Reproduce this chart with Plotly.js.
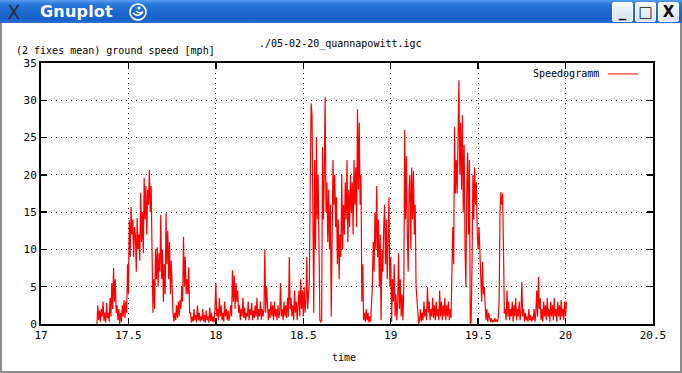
<!DOCTYPE html>
<html><head><meta charset="utf-8">
<script src="https://cdn.plot.ly/plotly-3.0.1.min.js"></script>
<style>
html,body{margin:0;padding:0;background:#fff;}
#wrap{position:relative;width:682px;height:373px;overflow:hidden;background:#fff;}
#chart{position:absolute;left:0;top:0;width:682px;height:373px;}
#titlebar{position:absolute;left:0;top:0;width:682px;height:23px;z-index:5;
 background:linear-gradient(#5b9df0 0%,#2a78dc 18%,#1b66cf 55%,#1a62c8 85%,#2c6fce 100%);}
#xicon{position:absolute;left:7px;top:0px;font:20px "DejaVu Sans";color:#2a2a2a;transform:scaleX(0.9);}
#tname{position:absolute;left:40px;top:2px;font:bold 16px "DejaVu Sans";color:#fff;letter-spacing:0.2px;}
#swirl{position:absolute;left:127px;top:2px;}
.btn{position:absolute;top:2px;width:19px;height:18px;background:linear-gradient(#f4f8fd,#d6e4f5);border:1px solid #fff;border-radius:2px;font:bold 15px "DejaVu Sans";color:#111;text-align:center;line-height:18px;}
#bl{position:absolute;left:0;top:23px;width:2px;height:350px;background:#8a8a8a;z-index:5;}
#br{position:absolute;right:0;top:23px;width:2px;height:350px;background:#8a8a8a;z-index:5;}
#bb{position:absolute;left:0;bottom:0;width:682px;height:2px;background:#8a8a8a;z-index:5;}
</style>
</head><body>
<div id="wrap">
<div id="chart"></div>
<div id="titlebar">
 <span id="xicon">X</span>
 <span id="tname">Gnuplot</span>
 <svg id="swirl" width="22" height="20" viewBox="0 0 22 20"><circle cx="11" cy="10" r="8" fill="none" stroke="#fff" stroke-width="1.6"/><path d="M6 11 Q11 16 16 10 Q12 12 9 9" fill="none" stroke="#fff" stroke-width="1.6"/><circle cx="12" cy="6" r="1.6" fill="#fff"/></svg>
 <div class="btn" style="left:612px;">_</div>
 <div class="btn" style="left:635px;">&#9633;</div>
 <div class="btn" style="left:658px;">X</div>
</div>
<div id="bl"></div><div id="br"></div><div id="bb"></div>
</div>
<script>
// time of day [h]
const times = [
17.32,17.325,17.33,17.335,17.34,17.345,17.35,17.355,17.36,17.365,17.37,17.375,17.38,17.385,17.39,17.395,17.4,17.405,17.41,17.415,
17.42,17.425,17.43,17.435,17.44,17.445,17.45,17.455,17.46,17.465,17.47,17.475,17.48,17.485,17.49,17.495,17.5,17.505,17.51,17.515,
17.52,17.525,17.53,17.535,17.54,17.545,17.55,17.555,17.56,17.565,17.57,17.575,17.58,17.585,17.59,17.595,17.6,17.605,17.61,17.615,
17.62,17.625,17.63,17.635,17.64,17.645,17.65,17.655,17.66,17.665,17.67,17.675,17.68,17.685,17.69,17.695,17.7,17.705,17.71,17.715,
17.72,17.725,17.73,17.735,17.74,17.745,17.75,17.755,17.76,17.765,17.77,17.775,17.78,17.785,17.79,17.795,17.8,17.805,17.81,17.815,
17.82,17.825,17.83,17.835,17.84,17.845,17.85,17.855,17.86,17.865,17.87,17.875,17.88,17.885,17.89,17.895,17.9,17.905,17.91,17.915,
17.92,17.925,17.93,17.935,17.94,17.945,17.95,17.955,17.96,17.965,17.97,17.975,17.98,17.985,17.99,17.995,18,18.005,18.01,18.015,
18.02,18.025,18.03,18.035,18.04,18.045,18.05,18.055,18.06,18.065,18.07,18.075,18.08,18.085,18.09,18.095,18.1,18.105,18.11,18.115,
18.12,18.125,18.13,18.135,18.14,18.145,18.15,18.155,18.16,18.165,18.17,18.175,18.18,18.185,18.19,18.195,18.2,18.205,18.21,18.215,
18.22,18.225,18.23,18.235,18.24,18.245,18.25,18.255,18.26,18.265,18.27,18.275,18.28,18.285,18.29,18.295,18.3,18.305,18.31,18.315,
18.32,18.325,18.33,18.335,18.34,18.345,18.35,18.355,18.36,18.365,18.37,18.375,18.38,18.385,18.39,18.395,18.4,18.405,18.41,18.415,
18.42,18.425,18.43,18.435,18.44,18.445,18.45,18.455,18.46,18.465,18.47,18.475,18.48,18.485,18.49,18.495,18.5,18.505,18.51,18.515,
18.52,18.525,18.53,18.535,18.54,18.545,18.55,18.555,18.56,18.565,18.57,18.575,18.58,18.585,18.59,18.595,18.6,18.605,18.61,18.615,
18.62,18.625,18.63,18.635,18.64,18.645,18.65,18.655,18.66,18.665,18.67,18.675,18.68,18.685,18.69,18.695,18.7,18.705,18.71,18.715,
18.72,18.725,18.73,18.735,18.74,18.745,18.75,18.755,18.76,18.765,18.77,18.775,18.78,18.785,18.79,18.795,18.8,18.805,18.81,18.815,
18.82,18.825,18.83,18.835,18.84,18.845,18.85,18.855,18.86,18.865,18.87,18.875,18.88,18.885,18.89,18.895,18.9,18.905,18.91,18.915,
18.92,18.925,18.93,18.935,18.94,18.945,18.95,18.955,18.96,18.965,18.97,18.975,18.98,18.985,18.99,18.995,19,19.005,19.01,19.015,
19.02,19.025,19.03,19.035,19.04,19.045,19.05,19.055,19.06,19.065,19.07,19.075,19.08,19.085,19.09,19.095,19.1,19.105,19.11,19.115,
19.12,19.125,19.13,19.135,19.14,19.145,19.15,19.155,19.16,19.165,19.17,19.175,19.18,19.185,19.19,19.195,19.2,19.205,19.21,19.215,
19.22,19.225,19.23,19.235,19.24,19.245,19.25,19.255,19.26,19.265,19.27,19.275,19.28,19.285,19.29,19.295,19.3,19.305,19.31,19.315,
19.32,19.325,19.33,19.335,19.34,19.345,19.35,19.355,19.36,19.365,19.37,19.375,19.38,19.385,19.39,19.395,19.4,19.405,19.41,19.415,
19.42,19.425,19.43,19.435,19.44,19.445,19.45,19.455,19.46,19.465,19.47,19.475,19.48,19.485,19.49,19.495,19.5,19.505,19.51,19.515,
19.52,19.525,19.53,19.535,19.54,19.545,19.55,19.555,19.56,19.565,19.57,19.575,19.58,19.585,19.59,19.595,19.6,19.605,19.61,19.615,
19.62,19.625,19.63,19.635,19.64,19.645,19.65,19.655,19.66,19.665,19.67,19.675,19.68,19.685,19.69,19.695,19.7,19.705,19.71,19.715,
19.72,19.725,19.73,19.735,19.74,19.745,19.75,19.755,19.76,19.765,19.77,19.775,19.78,19.785,19.79,19.795,19.8,19.805,19.81,19.815,
19.82,19.825,19.83,19.835,19.84,19.845,19.85,19.855,19.86,19.865,19.87,19.875,19.88,19.885,19.89,19.895,19.9,19.905,19.91,19.915,
19.92,19.925,19.93,19.935,19.94,19.945,19.95,19.955,19.96,19.965,19.97,19.975,19.98,19.985,19.99,19.995,20,20.005
];
// (2 fixes mean) ground speed [mph]
const speeds = [
0,2.5,0.5,1.8,0.3,2,1,3,0.4,1.5,0.2,2.8,0.8,1.5,0.3,3.5,1,5.5,2,7.5,
3,6,1.5,2.5,0.5,2,0,1.5,0.3,2.5,1,3.2,0.8,3,1.5,8,4,13.9,9,15.7,
12,14,9,13,11.8,7,14.2,10,12,8.5,17.6,11,15,9.5,19.6,14,18.5,12,18,16,
20.7,15,18.5,9,1.5,6,2,10,6,10.3,5,9.5,7,14.6,6,10,3,8,4,14.9,
8,12.5,6,11,4,8.5,3,1.5,0.3,1.5,0.5,2.5,0.8,3,1,3.2,2,5,3,11.7,
5,9,4,6,4,7.6,1.5,1.5,0.2,1,0.3,2,0.5,1.2,0.2,2.5,0.5,1.5,0.3,1,
0.5,2,0.3,1.2,0.2,1.8,0.5,1,0.2,2.2,0.4,1.5,0.3,1,0.2,2,5.5,1,2,0.5,
3.5,1,2.5,0.5,1.5,0.3,3,1,2,0.5,1.8,0.4,1.2,2.5,1,7.2,3,6.5,2,5.5,
3,4.5,1.5,2.5,0.5,2,1,3.5,0.8,2.2,0.5,1.5,1,3,0.5,2,1.2,2.8,0.5,1.8,
0.8,2.5,1,3.5,0.5,2,1,3,0.6,2,1,2,10,1.5,5,2.5,0.5,2,0.8,3,
1,2.5,0.5,3,1,2,0.5,2.5,0.8,1.5,5.5,1,2,0.5,3,1,2.5,0.8,3.5,1,
9,2,3.5,1,2.5,0.5,4.5,1.5,3,0.5,2,4.5,1,6,2,4.5,1,5,1.5,3,
9,2,4,6,19.3,29.6,28,12,1.5,22,10,25,14,20,8,0.5,0.3,0.5,23.7,14,
20,30.4,15,19,11,18,10,16,1,12,22,16,20,13,17,8,14,6,12,9,
20,10,16,12,19,14,22,11,18,13,20,15,19,12,22,16,21,13,28.8,18,
27,16,20,3,8,0.5,1.5,0.3,2,0.5,1.5,0.2,1,0.3,2,5,11,7,15,10,
18.5,9,14,5,12,0.5,10,7,13,16,8,14,6,12,17,5,9,0.3,6,3,
8,1,4,0.5,3,9.5,2,6,1,4,0.5,5,26,14,22.5,12,7,18,20,10,
21,14,20.5,12,16,5,3.3,0.3,0,0.5,2,0.3,1.5,0.5,3,1,2,0.5,5,1.5,
3,0.5,2,1,3.5,0.8,2.5,0.5,3,1,2,0.5,4.5,1,3,0.5,2.5,1,3.5,0.5,
2.5,1,3,0.5,2,0.8,7.6,13,8,26.4,17.5,22,17.5,30,32.7,20,27,18,28,15,
24,10,5,18,23,12,22,0,0.3,8,20,14,21,16,19,12,10,13,8.6,5,
3,8.3,4,5,1.9,0.5,2,0.3,1.5,0.5,0.3,0.8,0.2,0.5,0.3,0.8,0.3,0.5,0.3,0.8,
3,15,17.7,16,17.5,10,1.4,2,0.5,4.5,1,3,0.5,2,1,3,0.3,2.5,1,3.5,
0.5,2,1,3,0.5,1.5,5.6,1,2,0.3,1.5,0.5,1,0.3,2,0.5,1.2,0.3,1,0.5,
2,0.3,1.5,4.5,1,6.3,2,3.5,0.5,2,0.3,3,1,2.5,0.5,3.5,1,2,0.3,3,
1,2.5,0.5,3.5,1,2,0.3,3,1,2.5,0.5,3.2,1,2,0.5,3,1,3
];
const seriesName = "Speedogramm";
const chartTitle = "./05-02-20_quannapowitt.igc";
const yLabel = "(2 fixes mean) ground speed [mph]";
const xLabel = "time";
const xRange = [17, 20.5];
const yRange = [0, 35];

const FONT = "DejaVu Sans Mono, monospace";
const axisCommon = {
  showline: true, linecolor: "#000", linewidth: 2, mirror: "ticks",
  ticks: "inside", ticklen: 6, tickwidth: 1.5, tickcolor: "#000",
  showgrid: true, gridcolor: "#000", gridwidth: 1, griddash: "1px,4px",
  zeroline: false, tickfont: {family: FONT, size: 11, color: "#000"}
};
const layout = {
  width: 682, height: 373,
  margin: {l: 41, r: 29, t: 63, b: 49, pad: 0},
  paper_bgcolor: "#fff", plot_bgcolor: "#fff",
  showlegend: false,
  xaxis: Object.assign({}, axisCommon, {range: xRange, tick0: 17, dtick: 0.5}),
  yaxis: Object.assign({}, axisCommon, {range: yRange, tick0: 0, dtick: 5}),
  annotations: [
    {text: chartTitle, xref: "paper", yref: "paper", x: 0.4886, y: 1.073, xanchor: "center", yanchor: "middle", showarrow: false, font: {family: FONT, size: 10, color: "#000"}},
    {text: yLabel, xref: "paper", yref: "paper", x: -0.0441, y: 1.0498, xanchor: "left", yanchor: "middle", showarrow: false, font: {family: FONT, size: 10, color: "#000"}},
    {text: xLabel, xref: "paper", yref: "paper", x: 0.495, y: -0.130, xanchor: "center", yanchor: "middle", showarrow: false, font: {family: FONT, size: 10, color: "#000"}},
    {text: seriesName, xref: "paper", yref: "paper", x: 0.915, y: 0.958, xanchor: "right", yanchor: "middle", showarrow: false, font: {family: FONT, size: 10, color: "#000"}}
  ],
  shapes: [
    {type: "line", xref: "paper", yref: "paper", x0: 0.9265, x1: 0.9755, y0: 0.958, y1: 0.958, line: {color: "#ff0000", width: 1}}
  ]
};
Plotly.newPlot("chart", [{
  x: times, y: speeds, type: "scatter", mode: "lines", name: seriesName,
  line: {color: "#ff0000", width: 1.2}
}], layout, {staticPlot: true, displayModeBar: false});
</script>
</body></html>
